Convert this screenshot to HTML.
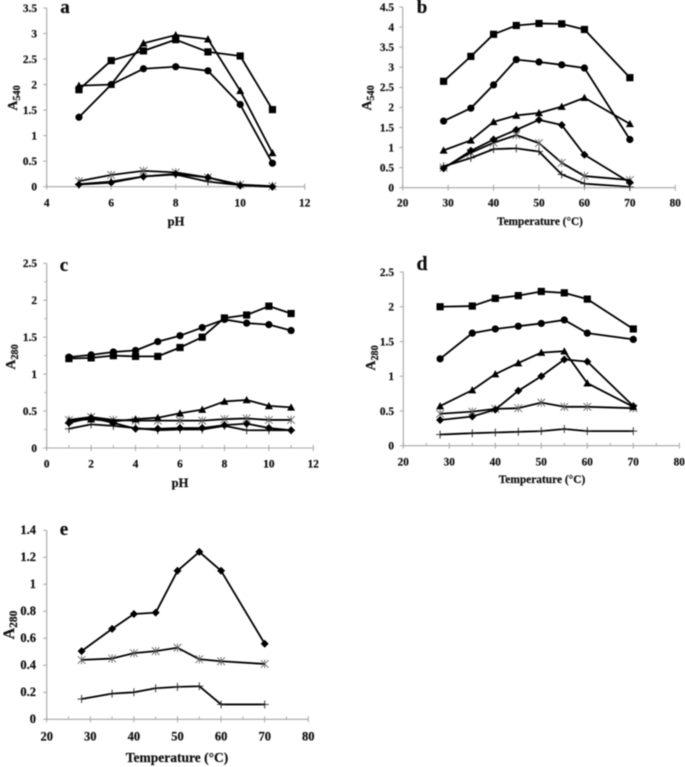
<!DOCTYPE html>
<html lang="en">
<head>
<meta charset="utf-8">
<title>Absorbance vs pH and temperature panels</title>
<style>
html,body{margin:0;padding:0;background:#fff;width:685px;height:767px;overflow:hidden}
svg{display:block}
text{font-family:"Liberation Serif",serif;font-weight:bold;fill:#111;stroke:#111;stroke-width:0.2px}
</style>
</head>
<body>
<svg id="figure" width="685" height="767" viewBox="0 0 685 767" xmlns="http://www.w3.org/2000/svg">
<defs><filter id="soft" x="-5%" y="-5%" width="110%" height="110%"><feGaussianBlur stdDeviation="0.45"/></filter></defs>
<g id="root" filter="url(#soft)"></g>
</svg>
<script>
// Panel a data
const aX = [5, 6, 7, 8, 9, 10, 11];
const aStar = [0.11, 0.23, 0.31, 0.28, 0.18, 0.04, 0.01];
const aPlus = [0.05, 0.10, 0.20, 0.24, 0.10, 0.03, 0.01];
const aDiamond = [0.04, 0.08, 0.20, 0.25, 0.18, 0.02, 0];
const aCircle = [1.36, 2.0, 2.31, 2.35, 2.27, 1.61, 0.46];
const aSquare = [1.9, 2.47, 2.66, 2.88, 2.64, 2.56, 1.51];
const aTriangle = [1.98, 2.0, 2.81, 2.97, 2.89, 1.88, 0.66];
const aXTicks = [4, 6, 8, 10, 12];
const aYTicks = ["0", "0.5", "1", "1.5", "2", "2.5", "3", "3.5"];

// Panel b data
const bX = [29, 35, 40, 45, 50, 55, 60, 70];
const bStar = [0.50, 0.87, 1.12, 1.31, 1.11, 0.62, 0.29, 0.19];
const bPlus = [0.53, 0.74, 0.96, 0.98, 0.90, 0.33, 0.10, 0.02];
const bDiamond = [0.48, 0.92, 1.20, 1.44, 1.69, 1.56, 0.82, 0.13];
const bCircle = [1.66, 1.98, 2.56, 3.19, 3.13, 3.06, 2.98, 1.20];
const bSquare = [2.65, 3.27, 3.82, 4.04, 4.09, 4.08, 3.94, 2.74];
const bTriangle = [0.93, 1.18, 1.64, 1.80, 1.86, 2.02, 2.24, 1.59];
const bXTicks = [20, 30, 40, 50, 60, 70, 80];
const bYTicks = ["0", "0.5", "1", "1.5", "2", "2.5", "3", "3.5", "4", "4.5"];

// Panel c data
const cX = [1, 2, 3, 4, 5, 6, 7, 8, 9, 10, 11];
const cStar = [0.38, 0.42, 0.38, 0.37, 0.37, 0.37, 0.37, 0.39, 0.40, 0.38, 0.38];
const cPlus = [0.26, 0.32, 0.30, 0.27, 0.24, 0.25, 0.25, 0.30, 0.24, 0.24, 0.24];
const cDiamond = [0.34, 0.41, 0.34, 0.26, 0.26, 0.27, 0.27, 0.31, 0.33, 0.27, 0.24];
const cCircle = [1.23, 1.26, 1.30, 1.32, 1.44, 1.52, 1.63, 1.74, 1.69, 1.67, 1.59];
const cSquare = [1.21, 1.22, 1.25, 1.24, 1.24, 1.36, 1.50, 1.76, 1.80, 1.92, 1.82];
const cTriangle = [0.37, 0.39, 0.36, 0.39, 0.41, 0.47, 0.52, 0.63, 0.65, 0.57, 0.55];
const cXTicks = [0, 2, 4, 6, 8, 10, 12];
const cYTicks = ["0", "0.5", "1", "1.5", "2", "2.5"];

// Panel d data
const dX = [28, 35, 40, 45, 50, 55, 60, 70];
const dStar = [0.46, 0.49, 0.53, 0.54, 0.62, 0.56, 0.56, 0.54];
const dPlus = [0.16, 0.18, 0.19, 0.20, 0.21, 0.24, 0.21, 0.21];
const dDiamond = [0.37, 0.42, 0.52, 0.79, 1.00, 1.24, 1.21, 0.57];
const dCircle = [1.25, 1.62, 1.68, 1.72, 1.76, 1.81, 1.62, 1.53];
const dSquare = [2.00, 2.01, 2.12, 2.16, 2.22, 2.20, 2.11, 1.68];
const dTriangle = [0.57, 0.80, 1.03, 1.19, 1.34, 1.36, 0.90, 0.56];
const dXTicks = [20, 30, 40, 50, 60, 70, 80];
const dYTicks = ["0", "0.5", "1", "1.5", "2", "2.5"];

// Panel e data
const eX = [28, 35, 40, 45, 50, 55, 60, 70];
const eStar = [0.44, 0.45, 0.49, 0.505, 0.53, 0.445, 0.43, 0.41];
const ePlus = [0.15, 0.19, 0.20, 0.23, 0.24, 0.245, 0.11, 0.11];
const eDiamond = [0.505, 0.67, 0.78, 0.79, 1.10, 1.24, 1.10, 0.56];
const eXTicks = [20, 30, 40, 50, 60, 70, 80];
const eYTicks = ["0", "0.2", "0.4", "0.6", "0.8", "1", "1.2", "1.4"];

const NS = 'http://www.w3.org/2000/svg';
const root = document.getElementById('root');

function el(parent, tag, attrs) {
  const n = document.createElementNS(NS, tag);
  for (const k in attrs) n.setAttribute(k, attrs[k]);
  parent.appendChild(n);
  return n;
}

function drawMarker(g, kind, x, y, name) {
  let m;
  if (kind === 'square') {
    m = el(g, 'rect', {x: x - 3.6, y: y - 3.6, width: 7.2, height: 7.2, fill: '#000'});
  } else if (kind === 'circle') {
    m = el(g, 'circle', {cx: x, cy: y, r: 3.6, fill: '#000'});
  } else if (kind === 'triangle') {
    m = el(g, 'polygon', {points: (x - 4) + ',' + (y + 3.3) + ' ' + (x + 4) + ',' + (y + 3.3) + ' ' + x + ',' + (y - 4), fill: '#000'});
  } else if (kind === 'diamond') {
    m = el(g, 'polygon', {points: (x - 4) + ',' + y + ' ' + x + ',' + (y - 4) + ' ' + (x + 4) + ',' + y + ' ' + x + ',' + (y + 4), fill: '#000'});
  } else if (kind === 'star') {
    m = el(g, 'path', {d: 'M' + (x - 3.8) + ' ' + (y - 3.8) + 'L' + (x + 3.8) + ' ' + (y + 3.8) + 'M' + (x + 3.8) + ' ' + (y - 3.8) + 'L' + (x - 3.8) + ' ' + (y + 3.8) + 'M' + x + ' ' + (y - 4.2) + 'L' + x + ' ' + (y + 4.2), stroke: '#555', 'stroke-width': 0.8, fill: 'none'});
  } else {
    m = el(g, 'path', {d: 'M' + (x - 4) + ' ' + y + 'L' + (x + 4) + ' ' + y + 'M' + x + ' ' + (y - 4) + 'L' + x + ' ' + (y + 4), stroke: '#222', 'stroke-width': 0.9, fill: 'none'});
  }
  
  
}

function drawPanel(p) {
  const g = el(root, 'g', {});
  
  

  const xMin = Number(p.xTicks[0]);
  const xMax = Number(p.xTicks[p.xTicks.length - 1]);
  const yMax = Number(p.yTicks[p.yTicks.length - 1]);
  const sx = v => p.x0 + (v - xMin) / (xMax - xMin) * (p.x1 - p.x0);
  const sy = v => p.y0 - v / yMax * (p.y0 - p.y1);

  const axisColor = '#a6a6a6';
  const xAxis = el(g, 'line', {x1: p.x0, x2: p.x1, y1: p.y0, y2: p.y0, stroke: axisColor, 'stroke-width': 1.1});
  
  
  const yAxis = el(g, 'line', {x1: p.x0, x2: p.x0, y1: p.y0 + 0.5, y2: p.y1, stroke: axisColor, 'stroke-width': 1.1});
  
  

  p.xTicks.forEach(t => {
    const x = sx(Number(t));
    el(g, 'line', {x1: x, x2: x, y1: p.y0 - 3, y2: p.y0 + 3, stroke: axisColor, 'stroke-width': 1});
    const lab = el(g, 'text', {x: x, y: p.xLabelY + 3.7, 'text-anchor': 'middle', 'font-size': p.fs});
    lab.textContent = t;
    
    
  });
  if (p.xMinor) {
    for (let v = xMin + p.xMinor; v < xMax; v += 2 * p.xMinor) {
      el(g, 'line', {x1: sx(v), x2: sx(v), y1: p.y0 - 3, y2: p.y0, stroke: axisColor, 'stroke-width': 0.9});
    }
  }
  p.yTicks.forEach(t => {
    const y = sy(Number(t));
    el(g, 'line', {x1: p.x0 - 3.5, x2: p.x0, y1: y, y2: y, stroke: axisColor, 'stroke-width': 1});
    const lab = el(g, 'text', {x: p.yLabelX, y: y + 3.8, 'text-anchor': 'end', 'font-size': p.fs});
    lab.textContent = t;
    
    
  });
  if (p.yMinor) {
    for (let v = p.yMinor; v < yMax; v += 2 * p.yMinor) {
      el(g, 'line', {x1: p.x0 - 2.5, x2: p.x0, y1: sy(v), y2: sy(v), stroke: axisColor, 'stroke-width': 0.9});
    }
  }

  p.series.forEach(s => {
    const sg = el(g, 'g', {});
    
    
    const pts = p.xs.map((v, i) => sx(v).toFixed(2) + ',' + sy(s.values[i]).toFixed(2)).join(' ');
    const line = el(sg, 'polyline', {points: pts, fill: 'none', stroke: '#000', 'stroke-width': 1.8, 'stroke-linejoin': 'round'});
    
    
    p.xs.forEach((v, i) => drawMarker(sg, s.kind, sx(v), sy(s.values[i]), 'point-' + s.kind));
  });

  const xt = el(g, 'text', {x: p.xTitleX, y: p.xTitleY + 4, 'text-anchor': 'middle', 'font-size': p.titleFs});
  xt.textContent = p.xTitle;
  
  

  const yt = el(g, 'text', {'text-anchor': 'middle', 'font-size': p.yFs, transform: 'translate(' + (p.yTitleX + 4) + ' ' + p.yTitleY + ') rotate(-90)'});
  
  
  const a = el(yt, 'tspan', {});
  a.textContent = 'A';
  const sub = el(yt, 'tspan', {dy: 3, 'font-size': p.yFs * 0.72});
  sub.textContent = p.ySub;

  const letter = el(g, 'text', {x: p.letterX, y: p.letterY + 5, 'text-anchor': 'middle', 'font-size': p.letterFs});
  letter.textContent = p.letter;
  
  
}

drawPanel({letter: 'a', x0: 46.7, x1: 304.7, y0: 186.7, y1: 8, xs: aX, xTicks: aXTicks, yTicks: aYTicks,
  yLabelX: 37, xLabelY: 203, xTitle: 'pH', xTitleX: 176, xTitleY: 221.5, ySub: '540', yTitleX: 13, yTitleY: 98,
  letterX: 65, letterY: 8, fs: 11.3, titleFs: 12.5, yFs: 14, letterFs: 19,
  series: [{kind: 'star', values: aStar}, {kind: 'plus', values: aPlus}, {kind: 'diamond', values: aDiamond}, {kind: 'circle', values: aCircle}, {kind: 'square', values: aSquare}, {kind: 'triangle', values: aTriangle}]});

drawPanel({letter: 'b', x0: 402.7, x1: 675.3, y0: 187.7, y1: 7, xs: bX, xTicks: bXTicks, yTicks: bYTicks,
  yLabelX: 394, xLabelY: 203, xTitle: 'Temperature (°C)', xTitleX: 540, xTitleY: 221, ySub: '540', yTitleX: 367, yTitleY: 98,
  letterX: 422, letterY: 8, fs: 11.3, titleFs: 11.3, yFs: 14, letterFs: 19,
  series: [{kind: 'star', values: bStar}, {kind: 'plus', values: bPlus}, {kind: 'diamond', values: bDiamond}, {kind: 'circle', values: bCircle}, {kind: 'square', values: bSquare}, {kind: 'triangle', values: bTriangle}]});

drawPanel({letter: 'c', x0: 46.7, x1: 313.3, y0: 448, y1: 263.3, xs: cX, xTicks: cXTicks, yTicks: cYTicks, xMinor: 1, yMinor: 0.25,
  yLabelX: 37, xLabelY: 464, xTitle: 'pH', xTitleX: 180, xTitleY: 483, ySub: '280', yTitleX: 11, yTitleY: 357,
  letterX: 64, letterY: 266, fs: 11.3, titleFs: 12.5, yFs: 14, letterFs: 19,
  series: [{kind: 'star', values: cStar}, {kind: 'plus', values: cPlus}, {kind: 'diamond', values: cDiamond}, {kind: 'circle', values: cCircle}, {kind: 'square', values: cSquare}, {kind: 'triangle', values: cTriangle}]});

drawPanel({letter: 'd', x0: 403.3, x1: 679.3, y0: 445.7, y1: 272, xs: dX, xTicks: dXTicks, yTicks: dYTicks, xMinor: 5,
  yLabelX: 394, xLabelY: 462, xTitle: 'Temperature (°C)', xTitleX: 542, xTitleY: 479, ySub: '280', yTitleX: 371, yTitleY: 358,
  letterX: 422, letterY: 265, fs: 11.3, titleFs: 11.4, yFs: 14, letterFs: 20,
  series: [{kind: 'star', values: dStar}, {kind: 'plus', values: dPlus}, {kind: 'diamond', values: dDiamond}, {kind: 'circle', values: dCircle}, {kind: 'square', values: dSquare}, {kind: 'triangle', values: dTriangle}]});

drawPanel({letter: 'e', x0: 46.7, x1: 308.3, y0: 719.3, y1: 530.3, xs: eX, xTicks: eXTicks, yTicks: eYTicks, xMinor: 5,
  yLabelX: 36, xLabelY: 737, xTitle: 'Temperature (°C)', xTitleX: 177, xTitleY: 758, ySub: '280', yTitleX: 10, yTitleY: 625,
  letterX: 64, letterY: 530, fs: 12.5, titleFs: 13.5, yFs: 16, letterFs: 19,
  series: [{kind: 'star', values: eStar}, {kind: 'plus', values: ePlus}, {kind: 'diamond', values: eDiamond}]});
</script>
</body>
</html>
